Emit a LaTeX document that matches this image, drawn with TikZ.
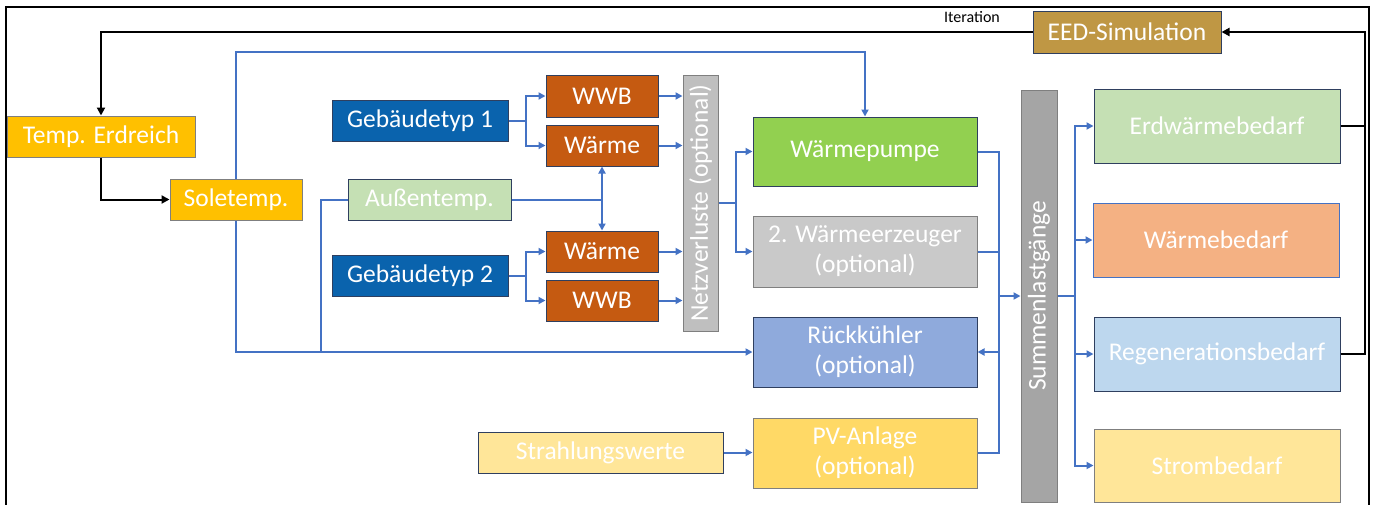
\documentclass[tikz,border=0pt]{standalone}
\usepackage{fontspec}
\setmainfont{Carlito}
\usetikzlibrary{arrows.meta}
\definecolor{cYel}{HTML}{FFC000}
\definecolor{cGeb}{HTML}{0A63AD}
\definecolor{cBrn}{HTML}{C55A11}
\definecolor{cNv}{HTML}{BFBFBF}
\definecolor{cWp}{HTML}{92D050}
\definecolor{cWe}{HTML}{C9C9C9}
\definecolor{cRk}{HTML}{8FAADC}
\definecolor{cPv}{HTML}{FFD966}
\definecolor{cLy}{HTML}{FFE699}
\definecolor{cSum}{HTML}{A5A5A5}
\definecolor{cLg}{HTML}{C5E0B4}
\definecolor{cOr}{HTML}{F4B183}
\definecolor{cLb}{HTML}{BDD7EE}
\definecolor{cEed}{HTML}{BF9744}
\definecolor{cLine}{HTML}{4472C4}
\definecolor{cBord}{HTML}{2F3F5F}
\definecolor{cBordG}{HTML}{7F7F7F}
\newcommand\mybox[7]{\node[bx, #2, minimum width={#5-#3}, minimum height={#6-#4}] (#1) at ({(#3+#5)/2},{(#4+#6)/2}) {#7};}
\begin{document}
\begin{tikzpicture}[x=1pt,y=-1pt,
  bx/.style={draw=cBord, line width=1pt, text=white, font=\fontsize{25.5}{30}\selectfont, align=center, inner sep=0pt},
  cb/.style={draw=cLine, line width=2pt},
  cba/.style={cb, -{Triangle[length=7pt,width=7pt]}},
  ck/.style={draw=black, line width=2pt},
  cka/.style={ck, -{Triangle[length=8pt,width=8pt]}}]
\useasboundingbox (0,0) rectangle (1376,504);
% frame
\draw[line width=1.8pt] (6,510) -- (6,7) -- (1369,7) -- (1369,510);
% boxes
\mybox{te}{fill=cYel, draw=cBordG}{7}{116}{195}{157}{Temp. Erdreich}
\mybox{sole}{fill=cYel, draw=cBordG}{170}{179}{302}{220}{Soletemp.}
\mybox{aus}{fill=cLg}{348}{179}{511}{220}{Außentemp.}
\mybox{g1}{fill=cGeb}{332}{100}{508}{141}{Gebäudetyp 1}
\mybox{g2}{fill=cGeb}{332}{255}{508}{296}{Gebäudetyp 2}
\mybox{wwb1}{fill=cBrn}{546}{75}{658}{117}{WWB}
\mybox{w1}{fill=cBrn}{546}{125}{658}{166}{Wärme}
\mybox{w2}{fill=cBrn}{546}{231}{658}{272}{Wärme}
\mybox{wwb2}{fill=cBrn}{546}{280}{658}{321}{WWB}
\mybox{nv}{fill=cNv, draw=cBordG}{683}{75}{718}{331}{\rotatebox{90}{Netzverluste (optional)}}
\mybox{wp}{fill=cWp}{753}{117}{977}{186}{Wärmepumpe}
\mybox{we2}{fill=cWe, draw=cBordG}{753}{216}{977}{287}{2. Wärmeerzeuger\\(optional)}
\mybox{rk}{fill=cRk}{753}{317}{977}{387}{Rückkühler\\(optional)}
\mybox{pv}{fill=cPv, draw=cBordG}{753}{418}{977}{488}{PV-Anlage\\(optional)}
\mybox{sw}{fill=cLy}{478}{432}{723}{473}{Strahlungswerte}
\mybox{sum}{fill=cSum, draw=cBordG}{1021}{90}{1057}{502}{\rotatebox{90}{Summenlastgänge}}
\mybox{ewb}{fill=cLg}{1094}{89}{1340}{163}{Erdwärmebedarf}
\mybox{wb}{fill=cOr, draw=cLine}{1093}{203}{1339}{277}{Wärmebedarf}
\mybox{rgb}{fill=cLb}{1094}{317}{1340}{391}{Regenerationsbedarf}
\mybox{stb}{fill=cLy, draw=cBordG}{1094}{429}{1340}{502}{Strombedarf}
\mybox{eed}{fill=cEed}{1033}{11}{1221}{53}{EED-Simulation}
% helper coordinates
\coordinate (yb) at (0,52);
\coordinate (xa) at (321,0);
\coordinate (xg) at (526,0);
\coordinate (xn) at (736,0);
\coordinate (xs) at (999,0);
\coordinate (xo) at (1075,0);
\coordinate (xr) at (1365,0);
% black connectors
\draw[cka] (eed.west) -| (te.north);
\node[font=\fontsize{16}{18}\selectfont, anchor=base, inner sep=0pt] (it) at (972,22) {Iteration};
\draw[cka] (te.south) |- (sole.west);
\draw[cka] (ewb.east) -| (xr |- eed.east) -- (eed.east);
\draw[ck] (rgb.east) -| (xr |- ewb.east);
% blue connectors
\draw[cba] (sole.north) |- (wp.north |- yb) -- (wp.north);
\draw[cba] (sole.south) |- (rk.west);
\draw[cb] (aus.west) -| (xa |- rk.west);
\draw[cb] (aus.east) -- (w1.south |- aus.east);
\draw[cba] (w1.south |- aus.east) -- (w1.south);
\draw[cba] (w1.south |- aus.east) -- (w2.north);
\draw[cba] (g1.east) -- (xg |- g1.east) |- (wwb1.west);
\draw[cba] (xg |- g1.east) |- (w1.west);
\draw[cba] (g2.east) -- (xg |- g2.east) |- (w2.west);
\draw[cba] (xg |- g2.east) |- (wwb2.west);
\draw[cba] (wwb1.east) -- (nv.west |- wwb1.east);
\draw[cba] (w1.east) -- (nv.west |- w1.east);
\draw[cba] (w2.east) -- (nv.west |- w2.east);
\draw[cba] (wwb2.east) -- (nv.west |- wwb2.east);
\draw[cb] (nv.east) -- (xn |- nv.east);
\draw[cba] (xn |- nv.east) |- (wp.west);
\draw[cba] (xn |- nv.east) |- (we2.west);
\draw[cb] (wp.east) -| (xs |- pv.east) -- (pv.east);
\draw[cb] (we2.east) -- (xs |- we2.east);
\draw[cba] (xs |- sum.west) -- (sum.west);
\draw[cba] (xs |- rk.east) -- (rk.east);
\draw[cba] (sw.east) -- (pv.west |- sw.east);
\draw[cb] (sum.east) -- (xo |- sum.east);
\draw[cba] (xo |- sum.east) |- (ewb.west);
\draw[cba] (xo |- sum.east) |- (wb.west);
\draw[cba] (xo |- sum.east) |- (rgb.west);
\draw[cba] (xo |- sum.east) |- (stb.west);
\end{tikzpicture}
\end{document}
